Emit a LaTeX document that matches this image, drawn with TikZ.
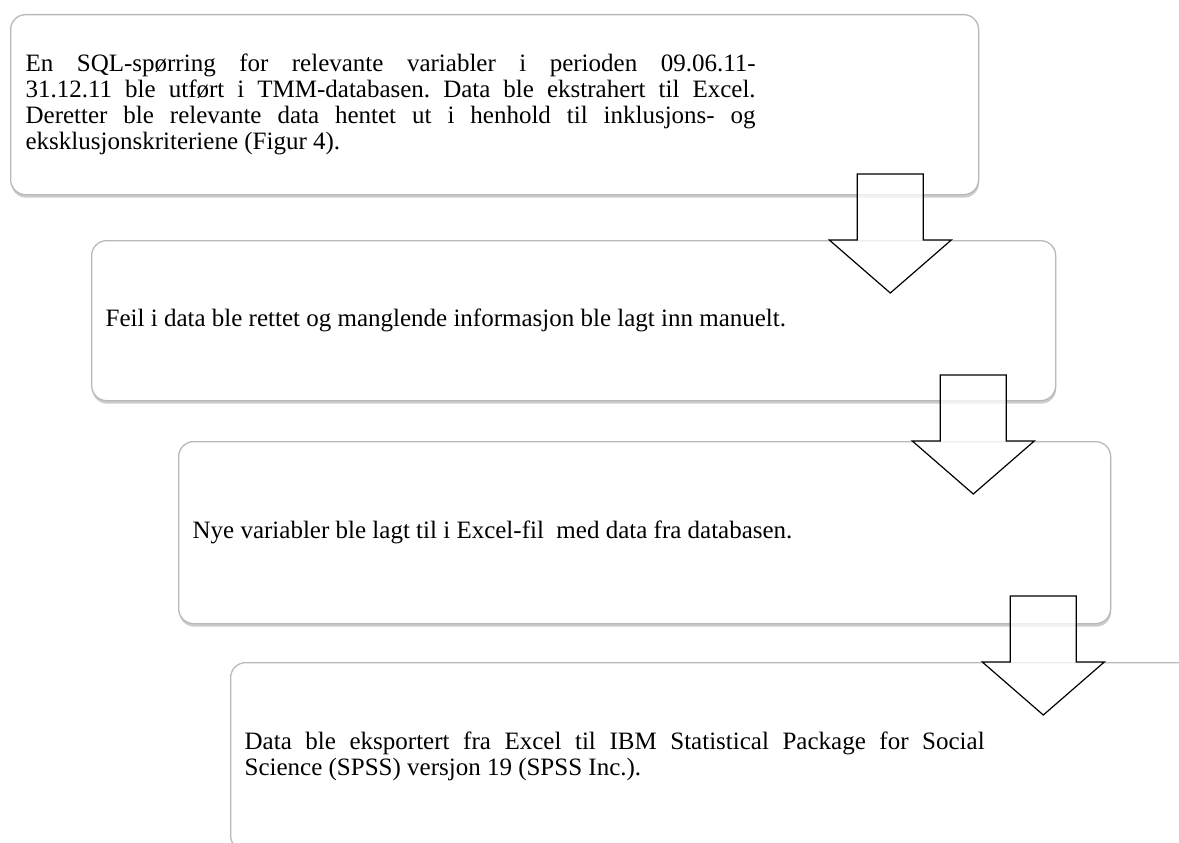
\documentclass[tikz,border=0pt]{standalone}
\usepackage{fontspec}
\setmainfont{Liberation Serif}
\usetikzlibrary{shadows}

\newcommand{\jpar}[2]{\parbox{#1}{\rightskip=0pt\relax\leftskip=0pt\relax
    \parfillskip=0pt plus 1fil\relax\frenchspacing
    \spaceskip=6.25pt plus 9pt minus 2pt\relax
    \hyphenpenalty=10000 \exhyphenpenalty=10000 #2}}

\begin{document}
\begin{tikzpicture}[
                x=1pt,
                y=-1pt,
                stepbox/.style={draw=gray!55, line width=1.3pt, rounded corners=15pt, fill=white,
                    drop shadow={shadow xshift=0.5pt, shadow yshift=-3pt, opacity=0.4, fill=gray},
                    inner xsep=14pt, inner ysep=0pt, anchor=north west,
                    font=\fontsize{25}{26}\selectfont},
                pics/downarrow/.style={code={
                    \draw[line width=1.2pt, fill=white, fill opacity=0.75, line join=miter]
                        (-33,-66) -- (33,-66) -- (33,0) -- (61,0) -- (0,53) -- (-61,0) -- (-33,0) -- cycle;
                }}
            ]

            \useasboundingbox (0,0) rectangle (1179,843);
            \clip (0,0) rectangle (1179,843);

            \node[stepbox, minimum width=968pt, minimum height=180pt, text width=938pt] (sql) at (10,14)
                {\jpar{730pt}{En SQL-spørring for relevante variabler i perioden 09.06.11-\linebreak
                31.12.11 ble utført i TMM-databasen. Data ble ekstrahert til Excel.\linebreak
                Deretter ble relevante data hentet ut i henhold til inklusjons- og\linebreak
                eksklusjonskriteriene (Figur 4).}};
            \node[stepbox, minimum width=964pt, minimum height=160pt, text width=936pt] (feil) at (91,240)
                {\jpar{936pt}{Feil i data ble rettet og manglende informasjon ble lagt inn manuelt.}};
            \node[stepbox, minimum width=932pt, minimum height=182pt, text width=904pt] (nye) at (178,441)
                {\jpar{904pt}{Nye variabler ble lagt til i Excel-fil~ med data fra databasen.}};
            \node[stepbox, minimum width=962pt, minimum height=188pt, text width=934pt] (spss) at (230,662)
                {\jpar{740pt}{Data ble eksportert fra Excel til IBM Statistical Package for Social\linebreak
                Science (SPSS) versjon 19 (SPSS Inc.).}};

            \coordinate (a1) at ([xshift=-89pt]sql.east |- feil.north);
            \coordinate (a2) at ([xshift=-83pt]feil.east |- nye.north);
            \coordinate (a3) at ([xshift=-68pt]nye.east |- spss.north);

            \pic at (a1) {downarrow};
            \pic at (a2) {downarrow};
            \pic at (a3) {downarrow};

            \end{tikzpicture}
\end{document}
